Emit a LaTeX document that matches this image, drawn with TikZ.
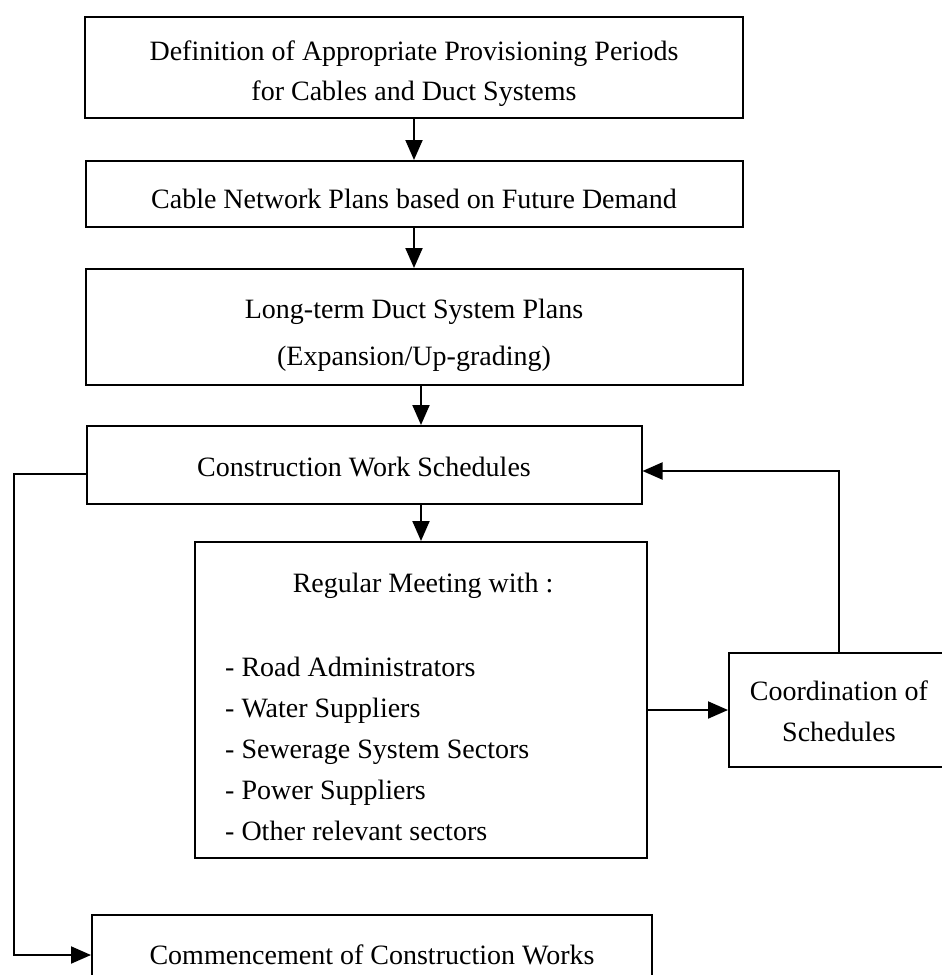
\documentclass[tikz,border=0pt]{standalone}
\usepackage{fontspec}
\setmainfont{Liberation Serif}
\usetikzlibrary{arrows.meta}
\begin{document}
\begin{tikzpicture}[x=1pt,y=-1pt,
  box/.style={draw, line width=2pt, inner sep=0pt, align=center, font=\fontsize{28}{40}\selectfont},
  txt/.style={inner sep=0pt, align=center, font=\fontsize{28}{41}\selectfont},
  arr/.style={line width=2pt, -{Triangle[length=20pt,width=17pt]}}]
\useasboundingbox (0,0) rectangle (942,975);
\clip (0,0) rectangle (942,975);
\fill[white] (0,0) rectangle (942,975);
% boxes
\node[box, minimum width=658pt, minimum height=101pt] (b1) at (414,67) {};
\node[txt, yshift=-7pt, font=\fontsize{28}{40}\selectfont] (b1t) at (b1)
  {Definition of Appropriate Provisioning Periods\\for Cables and Duct Systems};
\node[box, minimum width=657pt, minimum height=66pt] (b2) at (414,194) {};
\node[txt, yshift=-5pt] (b2t) at (b2) {Cable Network Plans based on Future Demand};
\node[box, minimum width=657pt, minimum height=116pt] (b3) at (414,327) {};
\node[txt, yshift=-8pt] (b3t) at (b3) {Long-term Duct System Plans\\[6pt](Expansion/Up-grading)};
\node[box, minimum width=555pt, minimum height=78pt] (b4) at (364,465) {};
\node[txt, yshift=-2pt] (b4t) at (b4) {Construction Work Schedules};
\node[box, minimum width=452pt, minimum height=316pt] (b5) at (421,700) {};
\node[txt] (b5h) at (423,586) {Regular Meeting with :};
\node[txt, anchor=west, align=left] (b5l) at (225,749)
  {- Road Administrators\\- Water Suppliers\\- Sewerage System Sectors\\- Power Suppliers\\- Other relevant sectors};
\node[box, minimum width=220pt, minimum height=114pt] (b6) at (839,710) {};
\node[txt, yshift=-1pt] (b6t) at (b6) {Coordination of\\Schedules};
\node[box, minimum width=560pt, minimum height=80pt] (b7) at (372,955) {};
\node[txt] (b7t) at (b7) {Commencement of Construction Works};
% connectors
\draw[arr] (b1) -- (b2);
\draw[arr] (b2) -- (b3);
\draw[arr] (b3.south -| b5.north) -- (b4.north -| b5.north);
\draw[arr] (b4.south -| b5.north) -- (b5.north);
\draw[arr] ([yshift=-9pt]b4.west) -- ++(-72,0) |- (b7.west);
\draw[arr] (b5.east |- b6.west) -- (b6.west);
\draw[arr] (b6.north) |- ([yshift=-6pt]b4.east);
\end{tikzpicture}
\end{document}
